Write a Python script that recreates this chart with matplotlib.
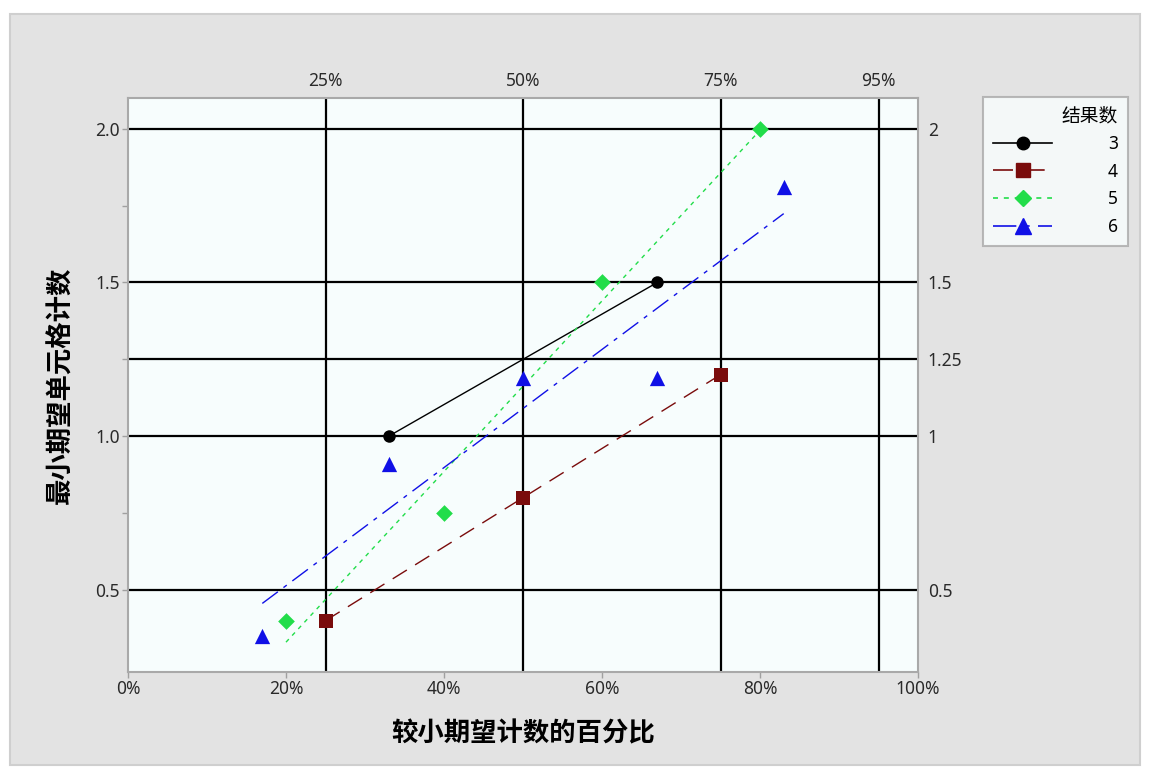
import numpy as np
import matplotlib
matplotlib.use('Agg')
import matplotlib.pyplot as plt
from matplotlib.patches import Rectangle

plt.rcParams['font.family'] = ['Noto Sans', 'Noto Sans CJK SC', 'DejaVu Sans']

# 数据: 各结果数的 (较小期望计数百分比, 最小期望单元格计数)
x3 = [33, 67]
y3 = [1.0, 1.5]
x4 = [25, 50, 75]
y4 = [0.4, 0.8, 1.2]
x5 = [20, 40, 60, 80]
y5 = [0.4, 0.75, 1.5, 2.0]
x6 = [17, 33, 50, 67, 83]
y6 = [0.35, 0.91, 1.19, 1.19, 1.81]

labels = ['3', '4', '5', '6']
bottom_ticks = [0, 20, 40, 60, 80, 100]
top_ticks = [25, 50, 75, 95]
left_ticks = [0.5, 1.0, 1.5, 2.0]
right_ticks = [0.5, 1, 1.25, 1.5, 2]

fig = plt.figure(figsize=(11.5, 7.73), dpi=100)
fig.patch.set_facecolor('white')
# 灰色面板
panel = Rectangle((10/1150, 8/773), 1130/1150, 751/773, transform=fig.transFigure,
                  facecolor='#e3e3e3', edgecolor='#cfcfcf', lw=1.5, zorder=-10)
fig.patches.append(panel)

ax = fig.add_axes([128/1150, 1-672/773, 790/1150, 574/773])
ax.set_zorder(1)
ax.set_facecolor('#f7fdfd')
ax.set_xlim(0, 100)
ax.set_ylim(0.233, 2.1)

# 参考线
for v in top_ticks:
    ax.axvline(v, color='black', lw=1.6, zorder=1)
for v in right_ticks:
    ax.axhline(v, color='black', lw=1.6, zorder=1)

series = [
    (x3, y3, 'black', 'o', 9, '-'),
    (x4, y4, '#7a0c0c', 's', 10, (0, (12, 7))),
    (x5, y5, '#22dd4a', 'D', 8.5, (0, (3, 3.5))),
    (x6, y6, '#1010e6', '^', 11, (0, (14, 5, 3, 5))),
]

handles = []
for (xs, ys, c, m, ms, ls), lab in zip(series, labels):
    xs = np.array(xs, dtype=float)
    ys = np.array(ys, dtype=float)
    ax.scatter(xs, ys, color=c, marker=m, s=ms**2, zorder=4, linewidths=0)
    k, b = np.polyfit(xs, ys, 1)
    xx = np.array([xs.min(), xs.max()])
    ax.plot(xx, k*xx + b, color=c, lw=1, linestyle=ls, zorder=3)
    h, = ax.plot([], [], color=c, lw=1.2, linestyle=ls, marker=m, ms=ms, label=lab)
    handles.append(h)

ax.set_xticks(bottom_ticks)
ax.set_xticklabels([f'{t}%' for t in bottom_ticks])
ax.set_yticks(left_ticks)
ax.set_yticklabels([f'{t:.1f}' for t in left_ticks])
ax.set_yticks([0.75, 1.25, 1.75], minor=True)
ax.tick_params(axis='both', which='both', length=4, width=1, color='#a0a0a0',
               labelsize=12.5, labelcolor='#2a2a2a', pad=2)

for s in ax.spines.values():
    s.set_color('#a9a9a9')
    s.set_linewidth(1.5)

top = ax.secondary_xaxis('top')
top.set_xticks(top_ticks)
top.set_xticklabels([f'{t}%' for t in top_ticks])
top.tick_params(length=0, labelsize=12.5, labelcolor='#2a2a2a', pad=6)
top.spines['top'].set_visible(False)

right = ax.secondary_yaxis('right')
right.set_yticks(right_ticks)
right.set_yticklabels([f'{t:g}' for t in right_ticks])
right.tick_params(length=0, labelsize=12.5, labelcolor='#2a2a2a', pad=7)
right.spines['right'].set_visible(False)

ax.set_xlabel('较小期望计数的百分比', fontsize=19, fontweight='bold', labelpad=16)
ax.set_ylabel('最小期望单元格计数', fontsize=19, fontweight='bold', labelpad=14)

leg = fig.legend(handles=handles, title='结果数', loc='upper left',
                 bbox_to_anchor=(983/1150, 1-97/773), fontsize=12.5, title_fontsize=13.5,
                 handlelength=3.4, handletextpad=3.2, labelspacing=0.55,
                 frameon=True, fancybox=False, alignment='right', borderpad=0.6,
                 borderaxespad=0)
leg.get_frame().set_edgecolor('#a9a9a9')
leg.get_frame().set_linewidth(1.5)
leg.get_frame().set_facecolor('#f9fefe')
leg.set_zorder(2)

fig.savefig('out.png', dpi=100)
